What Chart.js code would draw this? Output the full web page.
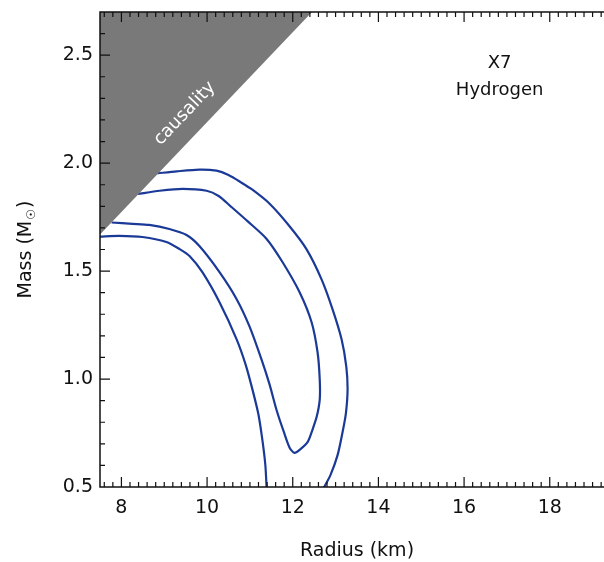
<!DOCTYPE html>
<html>
<head>
<meta charset="utf-8">
<script src="https://cdn.jsdelivr.net/npm/chart.js@4.4.1/dist/chart.umd.min.js"></script>
<style>
html, body { margin: 0; padding: 0; background: #fff; overflow: hidden; width: 604px; height: 562px; }
canvas { display: block; }
</style>
</head>
<body>
<canvas id="chart" width="616" height="562"></canvas>
<script>
const xTicks = [8, 10, 12, 14, 16, 18];
const yTicks = [0.5, 1.0, 1.5, 2.0, 2.5];

// causality limit (gray wedge above this line)
const causalR = [7.5, 12.45];
const causalM = [1.67, 2.7];

// 95% contour - outer branch
const outerR = [8.84, 9.29, 9.82, 10.22, 10.5, 10.8, 11.05, 11.46, 11.92, 12.32, 12.67, 12.93, 13.14, 13.25, 13.28, 13.24, 13.16, 13.05, 12.88, 12.72];
const outerM = [1.953, 1.962, 1.970, 1.965, 1.945, 1.910, 1.878, 1.812, 1.709, 1.602, 1.463, 1.323, 1.184, 1.058, 0.950, 0.840, 0.751, 0.650, 0.555, 0.495];

// 95% contour - inner branch
const innerR = [7.5, 7.95, 8.49, 9.05, 9.36, 9.59, 9.89, 10.29, 10.69, 10.90, 11.06, 11.20, 11.29, 11.36, 11.39];
const innerM = [1.66, 1.663, 1.658, 1.635, 1.602, 1.570, 1.495, 1.356, 1.184, 1.067, 0.951, 0.835, 0.719, 0.602, 0.495];

// 68% contour (closed loop)
const r68 = [8.38, 8.89, 9.43, 9.99, 10.27, 10.55, 10.95, 11.39, 11.76, 12.16, 12.44, 12.58, 12.63, 12.63, 12.56, 12.46, 12.35, 12.16, 12.04,
             11.93, 11.79, 11.62, 11.46, 11.27, 10.99, 10.69, 10.29, 9.82, 9.52, 9.12, 8.65, 8.26, 7.77];
const m68 = [1.857, 1.872, 1.881, 1.872, 1.848, 1.800, 1.730, 1.649, 1.542, 1.402, 1.263, 1.123, 0.998, 0.905, 0.826, 0.765, 0.709, 0.672, 0.658,
             0.681, 0.756, 0.858, 0.974, 1.091, 1.244, 1.370, 1.495, 1.616, 1.667, 1.695, 1.714, 1.719, 1.725];

const pts = (xs, ys) => xs.map((v, i) => ({x: v, y: ys[i]}));
const blue = '#1b3a98';
const font = 'DejaVu Sans';

const frame = {
    id: 'frame',
    afterDatasetsDraw(chart) {
        const {ctx, chartArea: a, scales: {x, y}} = chart;
        ctx.save();
        ctx.strokeStyle = '#111';
        ctx.lineWidth = 1.5;
        ctx.strokeRect(a.left, a.top, a.right - a.left, a.bottom - a.top);
        ctx.lineWidth = 1.2;
        ctx.beginPath();
        for (let i = 38; i <= 97; i++) {
            const v = i / 5, px = x.getPixelForValue(v);
            const len = xTicks.includes(v) ? 10 : 5;
            ctx.moveTo(px, a.bottom); ctx.lineTo(px, a.bottom - len);
            ctx.moveTo(px, a.top); ctx.lineTo(px, a.top + len);
        }
        for (let i = 6; i <= 26; i++) {
            const v = i / 10, py = y.getPixelForValue(v);
            const len = yTicks.includes(v) ? 10 : 5;
            ctx.moveTo(a.left, py); ctx.lineTo(a.left + len, py);
            ctx.moveTo(a.right, py); ctx.lineTo(a.right - len, py);
        }
        ctx.stroke();

        // y axis title with subscript sun symbol
        ctx.save();
        ctx.fillStyle = '#111';
        ctx.textBaseline = 'alphabetic';
        ctx.textAlign = 'left';
        ctx.translate(31, (a.top + a.bottom) / 2);
        ctx.rotate(-Math.PI / 2);
        ctx.font = '19px ' + font;
        const main = 'Mass (M', close = ')';
        const wMain = ctx.measureText(main).width, wClose = ctx.measureText(close).width;
        ctx.font = '12px ' + font;
        const wSun = ctx.measureText('\u2609').width;
        let tx = -(wMain + wSun + wClose + 2) / 2;
        ctx.font = '19px ' + font;
        ctx.fillText(main, tx, 0);
        ctx.font = '12px ' + font;
        ctx.fillText('\u2609', tx + wMain + 1, 4);
        ctx.font = '19px ' + font;
        ctx.fillText(close, tx + wMain + wSun + 2, 0);
        ctx.restore();

        // labels
        ctx.fillStyle = '#111';
        ctx.font = '18px ' + font;
        ctx.textAlign = 'center';
        ctx.textBaseline = 'middle';
        ctx.fillText('X7', x.getPixelForValue(16.83), y.getPixelForValue(2.46));
        ctx.fillText('Hydrogen', x.getPixelForValue(16.83), y.getPixelForValue(2.335));

        const x1 = x.getPixelForValue(causalR[0]), y1 = y.getPixelForValue(causalM[0]);
        const x2 = x.getPixelForValue(causalR[1]), y2 = y.getPixelForValue(causalM[1]);
        ctx.translate(x.getPixelForValue(9.48), y.getPixelForValue(2.23));
        ctx.rotate(Math.atan2(y2 - y1, x2 - x1));
        ctx.fillStyle = '#fff';
        ctx.font = '18px ' + font;
        ctx.fillText('causality', 0, 0);
        ctx.restore();
    }
};

new Chart(document.getElementById('chart'), {
    type: 'scatter',
    data: {
        datasets: [
            {
                label: 'causality',
                data: pts(causalR, causalM),
                showLine: true,
                borderWidth: 0,
                pointRadius: 0,
                backgroundColor: '#797979',
                fill: 'end'
            },
            {
                label: '95% outer',
                data: pts(outerR, outerM),
                showLine: true,
                borderColor: blue,
                borderWidth: 2.2,
                pointRadius: 0,
                tension: 0.25
            },
            {
                label: '95% inner',
                data: pts(innerR, innerM),
                showLine: true,
                borderColor: blue,
                borderWidth: 2.2,
                pointRadius: 0,
                tension: 0.25
            },
            {
                label: '68%',
                data: pts(r68, m68),
                showLine: true,
                borderColor: blue,
                borderWidth: 2.2,
                pointRadius: 0,
                tension: 0.25
            }
        ]
    },
    options: {
        responsive: false,
        animation: false,
        layout: {padding: {top: 12, right: 2, left: 0, bottom: 0}},
        plugins: {legend: {display: false}, tooltip: {enabled: false}},
        scales: {
            x: {
                type: 'linear',
                min: 7.5,
                max: 19.5,
                afterBuildTicks: s => { s.ticks = xTicks.map(v => ({value: v})); },
                afterFit: s => { s.height = 75; s.paddingLeft = 0; s.paddingRight = 0; },
                grid: {display: false, drawTicks: false},
                border: {display: false},
                ticks: {padding: 10, color: '#111', font: {family: font, size: 19}},
                title: {display: true, text: 'Radius (km)', color: '#111', font: {family: font, size: 19}, padding: {top: 0, bottom: 0}}
            },
            y: {
                type: 'linear',
                min: 0.5,
                max: 2.7,
                afterBuildTicks: s => { s.ticks = yTicks.map(v => ({value: v})); },
                afterFit: s => { s.width = 100; s.paddingTop = 0; s.paddingBottom = 0; },
                grid: {display: false, drawTicks: false},
                border: {display: false},
                ticks: {padding: 7, color: '#111', font: {family: font, size: 19}, callback: v => v.toFixed(1)},
                title: {display: false}
            }
        }
    },
    plugins: [frame]
});
</script>
</body>
</html>
